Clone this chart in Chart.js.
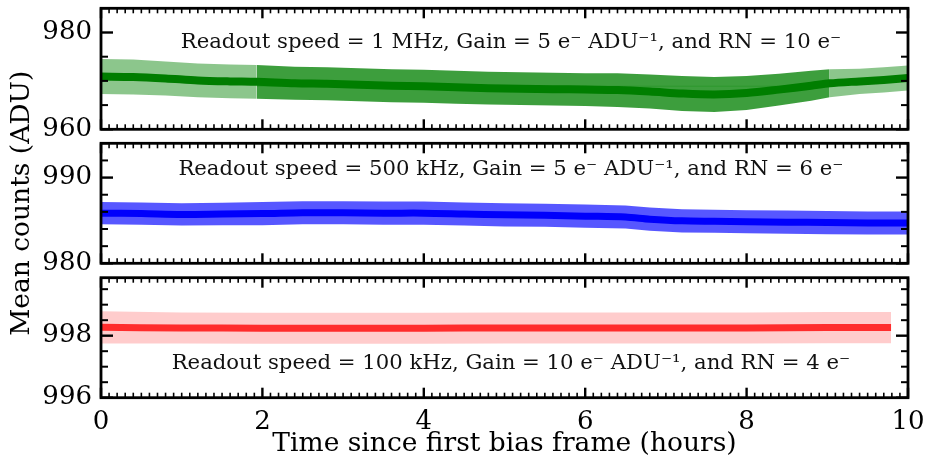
<!DOCTYPE html>
<html>
<head>
<meta charset="utf-8">
<script src="https://cdn.jsdelivr.net/npm/chart.js@4"></script>
<style>
  html, body { margin: 0; padding: 0; background: #fff; }
  #wrap { position: relative; width: 927px; height: 465px; }
  .layer { position: absolute; left: 0; top: 0; width: 927px; height: 465px; }
</style>
</head>
<body>
<div id="wrap">
  <div class="layer"><canvas id="pTop"></canvas></div>
  <div class="layer"><canvas id="pMid"></canvas></div>
  <div class="layer"><canvas id="pBot"></canvas></div>
</div>
<script>
// ── data ──────────────────────────────────────
const xTicks = [0, 2, 4, 6, 8, 10];

// 1 MHz readout (green)
const greenTime = [0, 0.4, 0.8, 1.2, 1.6, 1.93, 2.4, 2.8, 3.2, 3.6, 4.0, 4.4, 4.8, 5.2, 5.6, 6.0, 6.4, 6.8, 7.2, 7.6, 8.0, 8.4, 8.8, 9.03, 9.4, 9.7, 10];
const greenMean = [970.9, 970.8, 970.5, 970.1, 969.9, 969.8, 969.5, 969.4, 969.2, 969.0, 968.9, 968.7, 968.5, 968.4, 968.3, 968.2, 968.1, 967.8, 967.4, 967.2, 967.5, 968.2, 969.0, 969.5, 969.9, 970.2, 970.6];
const greenErr  = [3.6, 3.6, 3.5, 3.5, 3.5, 3.5, 3.4, 3.4, 3.4, 3.4, 3.4, 3.4, 3.4, 3.4, 3.4, 3.4, 3.5, 3.5, 3.6, 3.6, 3.5, 3.3, 3.1, 2.9, 2.6, 2.6, 2.6];
const greenEdges = [1.93, 9.03];
const greenLevel = 968.9;
const greenTicks = [960, 980];

// 500 kHz readout (blue)
const blueTime = [0, 0.5, 1.0, 1.5, 2.0, 2.5, 3.0, 3.5, 4.0, 4.5, 5.0, 5.5, 6.0, 6.5, 6.8, 7.2, 7.6, 8.0, 8.5, 9.0, 9.5, 10];
const blueMean = [985.85, 985.8, 985.7, 985.75, 985.8, 985.9, 985.9, 985.85, 985.85, 985.75, 985.65, 985.6, 985.5, 985.4, 985.15, 984.95, 984.9, 984.85, 984.8, 984.75, 984.7, 984.7];
const blueErr  = [1.3, 1.3, 1.3, 1.3, 1.35, 1.35, 1.35, 1.35, 1.35, 1.35, 1.35, 1.35, 1.35, 1.35, 1.35, 1.35, 1.35, 1.35, 1.35, 1.35, 1.35, 1.35];
const blueTicks = [980, 990];

// 100 kHz readout (red)
const redTime = [0, 1, 2, 3, 4, 5, 6, 7, 8, 9, 9.79];
const redMean = [998.27, 998.25, 998.24, 998.24, 998.24, 998.25, 998.25, 998.25, 998.25, 998.26, 998.26];
const redErr  = [0.52, 0.5, 0.5, 0.5, 0.5, 0.5, 0.5, 0.5, 0.5, 0.5, 0.5];
const redTicks = [996, 998];

const notes = [
  'Readout speed = 1 MHz, Gain = 5 e\u207B ADU\u207B\u00B9, and RN = 10 e\u207B',
  'Readout speed = 500 kHz, Gain = 5 e\u207B ADU\u207B\u00B9, and RN = 6 e\u207B',
  'Readout speed = 100 kHz, Gain = 10 e\u207B ADU\u207B\u00B9, and RN = 4 e\u207B',
];
const noteX = 5.08;
const noteY = [978.0, 990.9, 997.1];

// ── helpers ───────────────────────────────────
const SERIF = "'DejaVu Serif', serif";
const W = 927, H = 465;

function pts(time, vals, lo, hi) {
  const out = [];
  time.forEach((t, i) => {
    if (t >= lo - 1e-9 && t <= hi + 1e-9) out.push({ x: t, y: vals[i] });
  });
  return out;
}
function band(time, mean, err, lo, hi, color) {
  const up = mean.map((m, i) => m + err[i]);
  const dn = mean.map((m, i) => m - err[i]);
  return [
    { data: pts(time, up, lo, hi), borderWidth: 0, pointRadius: 0, backgroundColor: color, fill: '+1' },
    { data: pts(time, dn, lo, hi), borderWidth: 0, pointRadius: 0, fill: false },
  ];
}
function meanLine(time, mean, color, width) {
  return { data: pts(time, mean, -1, 99), borderColor: color, borderWidth: width, pointRadius: 0, fill: false, tension: 0.3 };
}
// keep chart.js from padding the plot area for end labels
function noPad(s) { s.paddingTop = 0; s.paddingBottom = 0; s.paddingLeft = 0; s.paddingRight = 0; }

// frame + inward ticks on all four sides, plus the panel note
const framePlugin = {
  id: 'frame',
  afterDatasetsDraw(chart, args, o) {
    const { ctx, chartArea: a, scales: { x, y } } = chart;
    ctx.save();
    ctx.strokeStyle = '#000';
    ctx.lineCap = 'butt';
    const tick = (x1, y1, x2, y2, w) => { ctx.lineWidth = w; ctx.beginPath(); ctx.moveTo(x1, y1); ctx.lineTo(x2, y2); ctx.stroke(); };
    for (let v = x.min; v <= x.max + 1e-9; v += 0.1) {
      const major = Math.abs(v / 2 - Math.round(v / 2)) < 1e-6;
      const px = x.getPixelForValue(v), len = major ? 10 : 5, w = major ? 2.4 : 1.6;
      tick(px, a.top, px, a.top + len, w);
      tick(px, a.bottom, px, a.bottom - len, w);
    }
    for (let v = Math.ceil(y.min / o.minor) * o.minor; v <= y.max + 1e-9; v += o.minor) {
      const major = o.majors.some(m => Math.abs(m - v) < 1e-6);
      const py = y.getPixelForValue(v), len = major ? 12 : 7, w = major ? 2.4 : 2;
      tick(a.left, py, a.left + len, py, w);
      tick(a.right, py, a.right - len, py, w);
    }
    ctx.lineWidth = 2.8;
    ctx.strokeRect(a.left, a.top, a.right - a.left, a.bottom - a.top);
    ctx.fillStyle = '#111';
    ctx.font = '21.2px ' + SERIF;
    ctx.textAlign = 'center';
    ctx.textBaseline = 'middle';
    ctx.fillText(o.note, x.getPixelForValue(o.noteX), y.getPixelForValue(o.noteY));
    ctx.restore();
  }
};

function makePanel(id, cfg) {
  new Chart(document.getElementById(id), {
    type: 'line',
    data: { datasets: cfg.datasets },
    plugins: [framePlugin],
    options: {
      responsive: true, maintainAspectRatio: false, animation: false,
      layout: { padding: { left: 0, right: W - 908, top: cfg.top, bottom: cfg.bottom } },
      plugins: {
        legend: { display: false }, tooltip: { enabled: false },
        frame: { minor: cfg.minor, majors: cfg.ticks, note: cfg.note, noteX: noteX, noteY: cfg.noteY },
      },
      scales: {
        x: {
          type: 'linear', min: 0, max: 10,
          display: cfg.showX,
          grid: { display: false },
          border: { display: false },
          afterBuildTicks: s => { s.ticks = xTicks.map(v => ({ value: v })); },
          afterFit: s => { noPad(s); if (cfg.showX) s.height = H - 397.7; },
          ticks: { color: '#000', font: { family: SERIF, size: 26 }, padding: 1, maxRotation: 0 },
          title: { display: cfg.showX, text: 'Time since first bias frame (hours)', color: '#000',
                   font: { family: SERIF, size: 26.5 }, padding: { top: 0, bottom: 5 } },
        },
        y: {
          min: cfg.min, max: cfg.max,
          grid: { display: false, drawTicks: false },
          border: { display: false },
          afterBuildTicks: s => { s.ticks = cfg.ticks.map(v => ({ value: v })); },
          afterFit: s => { noPad(s); s.width = 101; },
          ticks: { color: '#000', font: { family: SERIF, size: 26 }, padding: 9 },
          title: { display: cfg.yTitle, text: 'Mean counts (ADU)', color: '#000',
                   font: { family: SERIF, size: 26.5 }, padding: { top: 6, bottom: 0 } },
        },
      },
    },
  });
}

// ── panels ────────────────────────────────────
const [gA, gB] = greenEdges;
makePanel('pTop', {
  top: 8.3, bottom: H - 129.3, min: 960, max: 985, ticks: greenTicks, minor: 5,
  note: notes[0], noteY: noteY[0], showX: false, yTitle: false,
  datasets: [
    ...band(greenTime, greenMean, greenErr, 0, gA, 'rgba(0,128,0,0.45)'),
    ...band(greenTime, greenMean, greenErr, gA, gB, 'rgba(0,128,0,0.76)'),
    ...band(greenTime, greenMean, greenErr, gB, 10, 'rgba(0,128,0,0.45)'),
    meanLine(greenTime, greenMean, '#007a00', 8),
    { data: [{ x: gA, y: greenLevel }, { x: gB, y: greenLevel }], borderColor: 'rgba(170,225,170,0.85)', borderWidth: 1, pointRadius: 0, fill: false },
  ],
});

makePanel('pMid', {
  top: 143.3, bottom: H - 263.3, min: 980, max: 994, ticks: blueTicks, minor: 2,
  note: notes[1], noteY: noteY[1], showX: false, yTitle: true,
  datasets: [
    ...band(blueTime, blueMean, blueErr, 0, 10, 'rgba(0,0,255,0.66)'),
    meanLine(blueTime, blueMean, '#0000f5', 7),
  ],
});

makePanel('pBot', {
  top: 277.7, bottom: 0, min: 996, max: 999.87, ticks: redTicks, minor: 0.5,
  note: notes[2], noteY: noteY[2], showX: true, yTitle: false,
  datasets: [
    ...band(redTime, redMean, redErr, 0, 10, 'rgba(255,0,0,0.2)'),
    meanLine(redTime, redMean, 'rgba(255,20,20,0.85)', 7),
  ],
});
</script>
</body>
</html>
